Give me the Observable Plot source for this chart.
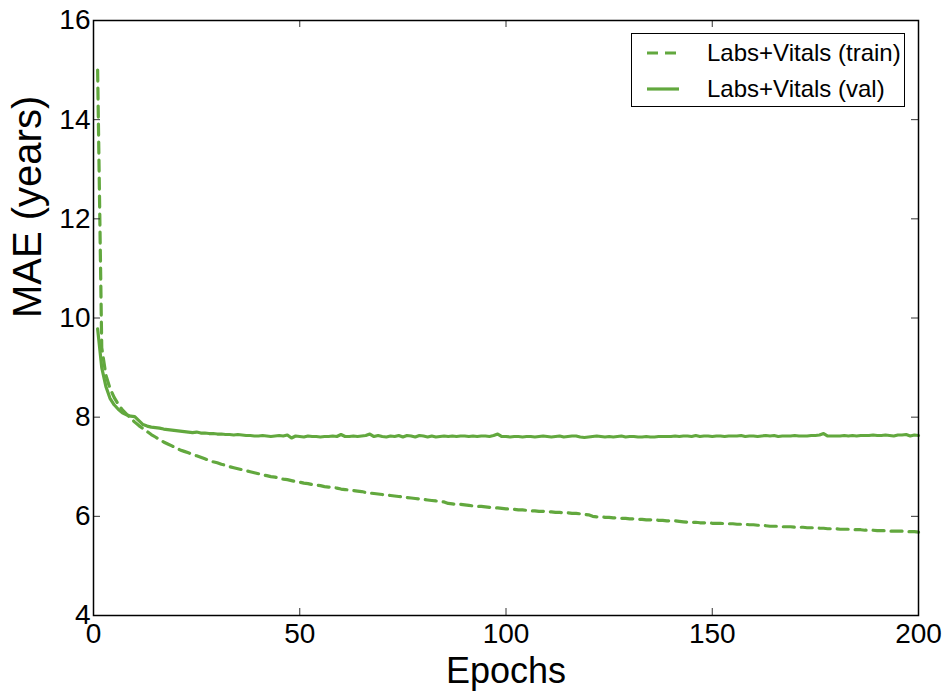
<!DOCTYPE html>
<html>
<head>
<meta charset="utf-8">
<script src="https://cdn.jsdelivr.net/npm/d3@7"></script>
<script src="https://cdn.jsdelivr.net/npm/@observablehq/plot@0.6"></script>
<style>
  html, body { margin: 0; padding: 0; background: #fff; }
  #wrap { position: relative; width: 949px; height: 694px; font-family: "Liberation Sans", Arial, sans-serif; }
  #legend { position: absolute; left: 631px; top: 33px; width: 274px; height: 74px; border: 1.5px solid #000; background: #fff; box-sizing: border-box; }
  .row { position: absolute; left: 0; height: 36px; display: flex; align-items: center; font-size: 24px; color: #000; white-space: nowrap; }
  .row svg { margin-left: 15px; margin-right: 28px; }
</style>
</head>
<body>
<div id="wrap"></div>
<script>
const epochs = [
  1,2,3,4,5,6,7,8,9,10,11,12,13,14,15,16,17,18,19,20,
  21,22,23,24,25,26,27,28,29,30,31,32,33,34,35,36,37,38,39,40,
  41,42,43,44,45,46,47,48,49,50,51,52,53,54,55,56,57,58,59,60,
  61,62,63,64,65,66,67,68,69,70,71,72,73,74,75,76,77,78,79,80,
  81,82,83,84,85,86,87,88,89,90,91,92,93,94,95,96,97,98,99,100,
  101,102,103,104,105,106,107,108,109,110,111,112,113,114,115,116,117,118,119,120,
  121,122,123,124,125,126,127,128,129,130,131,132,133,134,135,136,137,138,139,140,
  141,142,143,144,145,146,147,148,149,150,151,152,153,154,155,156,157,158,159,160,
  161,162,163,164,165,166,167,168,169,170,171,172,173,174,175,176,177,178,179,180,
  181,182,183,184,185,186,187,188,189,190,191,192,193,194,195,196,197,198,199,200
];
const trainMAE = [
  15.0,9.4,8.85,8.58,8.40,8.26,8.15,8.06,7.98,7.90,7.83,7.77,7.71,7.65,7.60,7.55,7.50,7.46,7.42,7.38,
  7.34,7.31,7.28,7.25,7.22,7.19,7.16,7.13,7.10,7.08,7.05,7.03,7.00,6.98,6.96,6.94,6.92,6.90,6.88,6.86,
  6.84,6.82,6.80,6.79,6.77,6.75,6.74,6.72,6.70,6.69,6.67,6.66,6.64,6.63,6.62,6.60,6.59,6.58,6.57,6.55,
  6.54,6.53,6.52,6.51,6.50,6.48,6.47,6.46,6.45,6.44,6.43,6.42,6.41,6.40,6.39,6.38,6.37,6.36,6.35,6.34,
  6.33,6.32,6.31,6.30,6.29,6.26,6.25,6.24,6.24,6.23,6.22,6.21,6.20,6.20,6.19,6.18,6.17,6.17,6.16,6.15,
  6.15,6.14,6.13,6.13,6.12,6.11,6.11,6.10,6.10,6.09,6.09,6.08,6.08,6.07,6.07,6.06,6.06,6.05,6.04,6.03,
  6.00,5.99,5.99,5.98,5.98,5.97,5.97,5.96,5.96,5.95,5.95,5.94,5.94,5.93,5.93,5.93,5.92,5.92,5.91,5.91,
  5.91,5.90,5.89,5.88,5.88,5.88,5.87,5.87,5.87,5.86,5.86,5.86,5.85,5.85,5.85,5.84,5.84,5.84,5.83,5.83,
  5.82,5.82,5.81,5.80,5.80,5.80,5.79,5.79,5.79,5.78,5.78,5.78,5.77,5.77,5.77,5.76,5.76,5.75,5.75,5.75,
  5.74,5.74,5.74,5.73,5.73,5.73,5.72,5.72,5.72,5.71,5.71,5.71,5.70,5.70,5.70,5.70,5.69,5.69,5.69,5.68
];
const valMAE = [
  9.78,9.00,8.62,8.38,8.25,8.16,8.09,8.05,8.02,8.01,7.93,7.85,7.82,7.80,7.79,7.78,7.76,7.75,7.74,7.73,
  7.72,7.71,7.70,7.69,7.70,7.68,7.68,7.67,7.67,7.66,7.66,7.65,7.65,7.64,7.65,7.64,7.63,7.63,7.62,7.62,
  7.63,7.62,7.61,7.62,7.63,7.62,7.64,7.58,7.62,7.61,7.60,7.62,7.61,7.61,7.60,7.61,7.61,7.62,7.61,7.65,
  7.61,7.61,7.62,7.61,7.62,7.63,7.66,7.61,7.63,7.61,7.60,7.62,7.61,7.63,7.60,7.63,7.62,7.60,7.63,7.62,
  7.60,7.62,7.60,7.61,7.62,7.61,7.62,7.61,7.62,7.62,7.61,7.62,7.61,7.62,7.62,7.61,7.63,7.66,7.61,7.61,
  7.60,7.61,7.61,7.60,7.61,7.61,7.60,7.61,7.62,7.61,7.60,7.61,7.62,7.60,7.61,7.62,7.62,7.60,7.59,7.60,
  7.61,7.62,7.61,7.60,7.61,7.60,7.61,7.62,7.60,7.61,7.61,7.60,7.60,7.61,7.60,7.60,7.61,7.61,7.61,7.61,
  7.62,7.61,7.62,7.62,7.61,7.63,7.61,7.62,7.62,7.61,7.62,7.62,7.61,7.62,7.62,7.62,7.63,7.61,7.62,7.62,
  7.61,7.62,7.63,7.62,7.63,7.61,7.62,7.62,7.62,7.63,7.62,7.62,7.62,7.63,7.63,7.64,7.67,7.62,7.62,7.62,
  7.62,7.63,7.62,7.63,7.62,7.63,7.63,7.63,7.64,7.63,7.63,7.64,7.63,7.62,7.64,7.64,7.65,7.62,7.64,7.63
];
const xTicks = [0, 50, 100, 150, 200];
const yTicks = [4, 6, 8, 10, 12, 14, 16];
const seriesNames = ["Labs+Vitals (train)", "Labs+Vitals (val)"];
const xLabel = "Epochs";
const yLabel = "MAE (years)";

const green = "#62a83e";
const train = epochs.map((e, i) => ({epoch: e, mae: trainMAE[i]}));
const val = epochs.map((e, i) => ({epoch: e, mae: valMAE[i]}));

const W = 949, H = 694, mL = 93, mR = 31, mT = 20, mB = 79;
const pW = W - mL - mR, pH = H - mT - mB;
const tl = 7;

const chart = Plot.plot({
  width: W, height: H,
  marginLeft: mL, marginRight: mR, marginTop: mT, marginBottom: mB,
  style: {fontFamily: '"Liberation Sans", Arial, sans-serif', fontSize: "28px", color: "#000", background: "#fff"},
  x: {domain: [0, 200]},
  y: {domain: [4, 16]},
  marks: [
    Plot.line(train, {x: "epoch", y: "mae", stroke: green, strokeWidth: 3.2, strokeDasharray: "11,7"}),
    Plot.line(val, {x: "epoch", y: "mae", stroke: green, strokeWidth: 3.2}),
    Plot.tickX(xTicks, {x: d => d, insetTop: pH - tl, stroke: "#333", strokeWidth: 1}),
    Plot.tickX(xTicks, {x: d => d, insetBottom: pH - tl, stroke: "#333", strokeWidth: 1}),
    Plot.tickY(yTicks, {y: d => d, insetRight: pW - tl, stroke: "#333", strokeWidth: 1}),
    Plot.tickY(yTicks, {y: d => d, insetLeft: pW - tl, stroke: "#333", strokeWidth: 1}),
    Plot.frame({stroke: "#000", strokeWidth: 1.5}),
    Plot.axisX({ticks: xTicks, tickSize: 0, tickPadding: 8, tickFormat: d => String(d), label: null, fontSize: 28}),
    Plot.axisY({ticks: yTicks, tickSize: 0, tickPadding: 3, tickFormat: d => String(d), label: null, fontSize: 28}),
    Plot.text([xLabel], {frameAnchor: "bottom", text: d => d, dy: 56, fontSize: 36, lineAnchor: "middle"}),
    Plot.text([yLabel], {frameAnchor: "left", text: d => d, dx: -65, rotate: -90, fontSize: 40, lineAnchor: "middle"})
  ]
});
const wrap = document.getElementById("wrap");
wrap.appendChild(chart);

const legend = document.createElement("div");
legend.id = "legend";
seriesNames.forEach((name, i) => {
  const row = document.createElement("div");
  row.className = "row";
  row.style.top = (i === 0 ? 1 : 37) + "px";
  const dash = i === 0 ? 'stroke-dasharray="11,7"' : "";
  row.innerHTML = `<svg width="32" height="10"><line x1="0" y1="5" x2="32" y2="5" stroke="${green}" stroke-width="3.2" ${dash}/></svg><span>${name}</span>`;
  legend.appendChild(row);
});
wrap.appendChild(legend);
</script>
</body>
</html>
